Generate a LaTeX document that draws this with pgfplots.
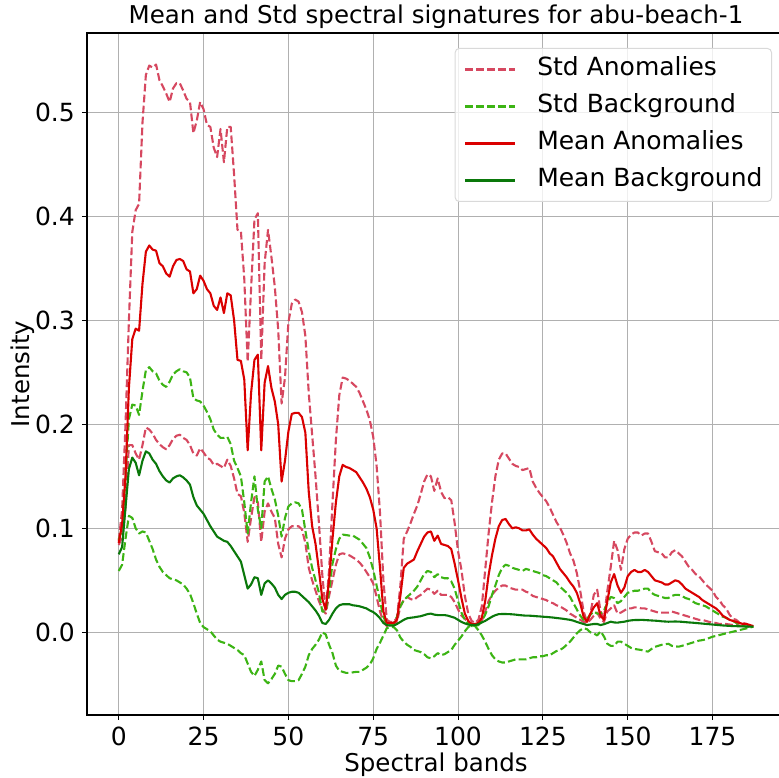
\documentclass[border=0pt]{standalone}
\usepackage{fontspec}
\setmainfont{DejaVu Sans}
\usepackage{pgfplots}
\usepackage{pgfplotstable}
\pgfplotsset{compat=1.18}
\definecolor{stdA}{RGB}{214,72,96}
\definecolor{stdB}{RGB}{60,180,20}
\definecolor{meanA}{RGB}{218,0,0}
\definecolor{meanB}{RGB}{10,120,10}
\definecolor{gridc}{RGB}{176,176,176}
\pgfplotstableread{
b sau ma sal sbu mb sbl
0 .088 .086 .084 .089 .075 .059
1 .118 .104 .092 .099 .082 .065
2 .200 .150 .120 .150 .120 .090
3 .300 .235 .180 .205 .157 .112
4 .385 .282 .180 .219 .168 .110
5 .406 .292 .172 .218 .163 .100
6 .412 .290 .166 .209 .151 .095
7 .490 .335 .180 .232 .165 .097
8 .536 .366 .197 .252 .174 .096
9 .545 .372 .195 .255 .172 .088
10 .543 .368 .191 .251 .166 .080
11 .546 .367 .185 .249 .162 .070
12 .531 .355 .181 .242 .155 .063
13 .525 .352 .178 .238 .150 .058
14 .518 .345 .176 .236 .146 .055
15 .510 .342 .180 .241 .144 .052
16 .523 .352 .186 .248 .148 .051
17 .528 .358 .189 .251 .150 .050
18 .528 .359 .190 .253 .151 .048
19 .521 .357 .187 .251 .149 .046
20 .513 .349 .185 .250 .146 .042
21 .510 .347 .180 .245 .142 .037
22 .480 .326 .172 .225 .130 .028
23 .492 .330 .170 .223 .122 .018
24 .510 .343 .177 .222 .118 .009
25 .503 .338 .173 .218 .114 .005
26 .488 .330 .168 .212 .108 .003
27 .486 .326 .166 .205 .102 .001
28 .466 .314 .161 .195 .097 -.003
29 .457 .310 .162 .190 .092 -.007
30 .484 .322 .160 .187 .090 -.009
31 .452 .307 .158 .187 .088 -.010
32 .486 .326 .166 .188 .087 -.011
33 .486 .324 .160 .181 .083 -.013
34 .440 .300 .148 .165 .078 -.015
35 .387 .262 .133 .158 .073 -.017
36 .386 .261 .131 .150 .068 -.020
37 .340 .243 .115 .125 .055 -.022
38 .260 .175 .087 .095 .042 -.030
39 .330 .230 .110 .125 .046 -.038
40 .397 .262 .130 .150 .053 -.042
41 .403 .267 .125 .118 .052 -.036
42 .262 .175 .087 .100 .036 -.028
43 .355 .240 .116 .145 .047 -.046
44 .387 .256 .124 .150 .050 -.049
45 .361 .235 .116 .138 .047 -.045
46 .332 .222 .110 .128 .043 -.040
47 .291 .200 .085 .112 .036 -.032
48 .220 .145 .072 .092 .032 -.033
49 .245 .165 .090 .110 .036 -.040
50 .298 .193 .099 .121 .038 -.046
51 .316 .210 .102 .124 .039 -.047
52 .320 .211 .102 .125 .039 -.047
53 .318 .211 .102 .124 .038 -.046
54 .308 .207 .099 .118 .035 -.040
55 .285 .192 .086 .098 .032 -.033
56 .230 .135 .062 .078 .029 -.022
57 .190 .102 .050 .062 .025 -.016
58 .150 .085 .040 .050 .021 -.012
59 .105 .060 .030 .038 .016 -.007
60 .055 .032 .022 .020 .009 .000
61 .020 .022 .018 .020 .008 -.002
62 .060 .050 .035 .040 .012 -.012
63 .125 .090 .050 .066 .018 -.020
64 .185 .125 .065 .080 .023 -.032
65 .228 .150 .075 .090 .026 -.037
66 .245 .161 .076 .094 .027 -.038
67 .244 .159 .075 .0935 .027 -.039
68 .242 .158 .074 .093 .027 -.039
69 .239 .156 .072 .093 .026 -.0385
70 .236 .154 .070 .091 .0256 -.038
71 .230 .149 .067 .089 .025 -.038
72 .222 .144 .063 .085 .024 -.036
73 .214 .138 .058 .081 .023 -.034
74 .204 .130 .053 .072 .021 -.031
75 .188 .118 .047 .060 .0195 -.025
76 .160 .100 .034 .045 .017 -.016
77 .115 .062 .020 .030 .0135 -.010
78 .050 .020 .010 .015 .009 -.003
79 .012 .009 .006 .008 .007 .004
80 .010 .009 .008 .008 .0064 .005
81 .010 .009 .008 .008 .0064 .005
82 .014 .012 .010 .015 .008 .002
83 .045 .035 .025 .025 .010 -.005
84 .090 .062 .031 .031 .012 -.009
85 .097 .066 .034 .034 .0135 -.012
86 .105 .068 .032 .037 .014 -.014
87 .114 .070 .031 .040 .0144 -.017
88 .122 .078 .034 .044 .015 -.018
89 .133 .085 .036 .050 .0155 -.019
90 .145 .092 .039 .056 .0165 -.021
91 .152 .096 .042 .059 .0175 -.024
92 .150 .097 .041 .058 .018 -.025
93 .136 .088 .037 .053 .017 -.023
94 .148 .093 .040 .056 .0166 -.020
95 .135 .085 .036 .053 .0166 -.022
96 .129 .084 .036 .052 .0166 -.021
97 .130 .083 .036 .052 .016 -.019
98 .127 .080 .034 .049 .015 -.017
99 .105 .066 .029 .042 .014 -.012
100 .078 .050 .022 .030 .012 -.008
101 .060 .033 .016 .019 .010 -.004
102 .035 .018 .013 .012 .0086 .001
103 .018 .011 .010 .009 .0075 .005
104 .011 .008 .008 .006 .007 .007
105 .009 .008 .007 .006 .007 .006
106 .012 .009 .008 .007 .0078 .002
107 .025 .014 .011 .011 .0095 -.003
108 .060 .030 .020 .017 .011 -.009
109 .095 .055 .030 .025 .013 -.016
110 .125 .074 .036 .036 .015 -.022
111 .150 .090 .040 .045 .0165 -.026
112 .166 .102 .043 .055 .0175 -.028
113 .172 .108 .045 .062 .0176 -.029
114 .172 .109 .045 .065 .0176 -.029
115 .167 .104 .043 .064 .0175 -.028
116 .162 .100 .042 .062 .0173 -.027
117 .160 .101 .041 .061 .017 -.026
118 .159 .100 .041 .060 .0166 -.026
119 .156 .098 .041 .059 .0163 -.026
120 .157 .098 .039 .061 .016 -.026
121 .158 .099 .038 .060 .016 -.025
122 .145 .094 .035 .059 .0158 -.024
123 .139 .090 .034 .058 .0155 -.024
124 .134 .087 .033 .057 .0153 -.023
125 .130 .084 .032 .055 .015 -.023
126 .126 .081 .031 .054 .0148 -.022
127 .120 .076 .029 .052 .0145 -.022
128 .113 .073 .028 .050 .0142 -.020
129 .106 .067 .026 .048 .0138 -.018
130 .101 .061 .025 .044 .0134 -.017
131 .094 .057 .023 .041 .013 -.015
132 .086 .053 .021 .038 .0125 -.012
133 .076 .048 .018 .034 .012 -.009
134 .069 .044 .016 .028 .0112 -.005
135 .057 .038 .014 .022 .010 -.001
136 .040 .028 .012 .016 .009 .002
137 .020 .015 .010 .012 .008 .004
138 .010 .010 .009 .013 .007 .003
139 .018 .018 .012 .017 .0075 .000
140 .036 .024 .016 .020 .008 -.001
141 .041 .028 .019 .018 .008 -.003
142 .020 .016 .013 .018 .007 .001
143 .014 .012 .010 .021 .0078 -.004
144 .040 .030 .020 .028 .009 -.011
145 .063 .048 .023 .034 .0102 -.013
146 .088 .056 .026 .033 .0095 -.013
147 .079 .045 .018 .028 .0093 -.009
148 .060 .038 .019 .030 .0098 -.009
149 .080 .043 .021 .034 .0102 -.011
150 .090 .054 .023 .038 .011 -.013
151 .094 .058 .023 .039 .0115 -.015
152 .096 .060 .024 .040 .0118 -.016
153 .096 .058 .024 .040 .0118 -.0165
154 .093 .058 .023 .041 .012 -.017
155 .095 .060 .023 .042 .0118 -.018
156 .095 .058 .022 .042 .0116 -.0185
157 .087 .054 .021 .038 .0114 -.016
158 .078 .050 .020 .036 .0112 -.014
159 .077 .049 .019 .035 .011 -.013
160 .076 .048 .019 .034 .0106 -.012
161 .072 .046 .019 .033 .0104 -.0115
162 .072 .046 .019 .033 .0102 -.011
163 .077 .048 .020 .035 .0103 -.013
164 .079 .050 .019 .036 .0104 -.0135
165 .076 .049 .018 .036 .0103 -.0138
166 .073 .046 .017 .035 .0101 -.013
167 .068 .042 .016 .033 .0098 -.012
168 .063 .040 .015 .032 .0095 -.011
169 .060 .038 .014 .030 .0093 -.010
170 .056 .036 .013 .028 .009 -.009
171 .054 .034 .012 .027 .0087 -.008
172 .050 .031 .012 .026 .0084 -.0075
173 .046 .029 .011 .025 .0081 -.0068
174 .043 .027 .010 .023 .0078 -.0055
175 .040 .025 .0095 .021 .0075 -.0042
176 .034 .023 .009 .019 .0072 -.0035
177 .031 .020 .008 .017 .0069 -.0026
178 .026 .016 .008 .015 .0066 -.0018
179 .023 .014 .008 .014 .0064 -.001
180 .017 .012 .0075 .012 .0062 -.0002
181 .013 .011 .007 .011 .006 .0006
182 .012 .010 .007 .009 .0059 .0014
183 .009 .009 .0065 .008 .0058 .0022
184 .009 .008 .006 .006 .0057 .003
185 .008 .008 .006 .0055 .0056 .0038
186 .006 .007 .006 .0055 .0055 .0046
187 .005 .006 .006 .0055 .0054 .0054
}\datatable
\begin{document}
\begin{tikzpicture}
\begin{axis}[
  scale only axis,
  width=698pt, height=682pt,
  xmin=-9.35, xmax=196.35, ymin=-0.0795, ymax=0.5763,
  xtick={0,25,50,75,100,125,150,175},
  xticklabels={0,25,50,75,100,125,150,175},
  ytick={0,0.1,0.2,0.3,0.4,0.5},
  yticklabels={0.0,0.1,0.2,0.3,0.4,0.5},
  grid=major,
  grid style={gridc, line width=1.1pt},
  axis line style={black, line width=1.1pt},
  tick align=outside, tick pos=left,
  major tick length=5pt,
  tick style={black, line width=1.1pt},
  tick label style={font=\fontsize{25}{30}\selectfont},
  xticklabel style={inner sep=0pt, yshift=-7pt},
  yticklabel style={inner sep=0pt, xshift=-7pt},
  title={Mean and Std spectral signatures for abu-beach-1},
  title style={at={(axis description cs:0.5,1)}, anchor=base, yshift=3pt, font=\fontsize{24.5}{29}\selectfont},
  xlabel={Spectral bands},
  xlabel style={at={(axis description cs:0.5,0)}, anchor=base, yshift=-57pt, font=\fontsize{24.5}{29}\selectfont},
  ylabel={Intensity},
  ylabel style={at={(axis description cs:0,0.5)}, anchor=base, yshift=57pt, font=\fontsize{24.5}{29}\selectfont},
  legend cell align=left,
  legend style={at={(axis description cs:1,1)}, anchor=north east, xshift=-13pt, yshift=-15pt,
    draw=black!15, line width=1pt, rounded corners=4pt, fill=white, fill opacity=0.8, text opacity=1,
    font=\fontsize{25}{30}\selectfont, inner xsep=9pt, inner ysep=9.5pt, row sep=14pt, column sep=21pt,
    nodes={inner sep=0pt, text height=18pt, text depth=5pt}},
  legend image code/.code={\draw[#1] (0pt,0pt) -- (50pt,0pt);},
  every axis plot/.append style={no marks, line join=round},
]
\addplot[stdA, line width=2.1pt, dash pattern=on 7.7pt off 3.3pt] table[x=b, y=sau] {\datatable};
\addlegendentry{Std Anomalies}
\addplot[stdA, line width=2.1pt, dash pattern=on 7.7pt off 3.3pt, forget plot] table[x=b, y=sal] {\datatable};
\addplot[stdB, line width=2.1pt, dash pattern=on 7.7pt off 3.3pt] table[x=b, y=sbu] {\datatable};
\addlegendentry{Std Background}
\addplot[stdB, line width=2.1pt, dash pattern=on 7.7pt off 3.3pt, forget plot] table[x=b, y=sbl] {\datatable};
\addplot[meanA, line width=2.1pt] table[x=b, y=ma] {\datatable};
\addlegendentry{Mean Anomalies}
\addplot[meanB, line width=2.1pt] table[x=b, y=mb] {\datatable};
\addlegendentry{Mean Background}
\end{axis}
\pgfresetboundingbox
\path[use as bounding box] ([shift={(-87pt,-63pt)}]current axis.south west) rectangle ([shift={(-6pt,33pt)}]current axis.north east);
\end{tikzpicture}
\end{document}
